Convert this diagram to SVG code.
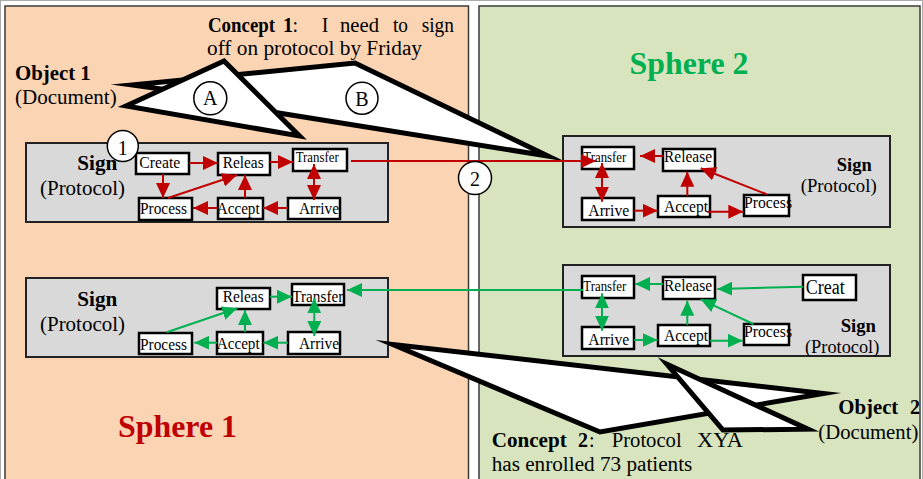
<svg xmlns="http://www.w3.org/2000/svg" width="923" height="479" viewBox="0 0 923 479">
<style>
text{font-family:"Liberation Serif","Times New Roman",serif;fill:#000}
.b{font-weight:bold}
.big{font-size:20px}
.sg{font-size:21px}
.lbl{font-size:18px}
.t{font-size:17.5px}
.ts{font-size:14px}
.box{fill:#fff;stroke:#000;stroke-width:2.5}
.sign{fill:#D9D9D9;stroke:#222;stroke-width:2}
.co{fill:#fff;stroke:#000;stroke-width:5;stroke-linejoin:miter;stroke-miterlimit:30}
.cir{fill:#fff;stroke:#000;stroke-width:1.5}
.r{stroke:#C00000;stroke-width:2;fill:none;marker-end:url(#ar)}
.rd{stroke:#C00000;stroke-width:2;fill:none;marker-end:url(#ar);marker-start:url(#ar)}
.g{stroke:#00B050;stroke-width:2;fill:none;marker-end:url(#ag)}
.gd{stroke:#00B050;stroke-width:2;fill:none;marker-end:url(#ag);marker-start:url(#ag)}
</style>
<defs>
<marker id="ar" viewBox="0 0 15 14" refX="15" refY="7" markerWidth="15" markerHeight="14" markerUnits="userSpaceOnUse" orient="auto-start-reverse"><path d="M0,0 L15,7 L0,14 z" fill="#C00000"/></marker>
<marker id="ag" viewBox="0 0 15 14" refX="15" refY="7" markerWidth="15" markerHeight="14" markerUnits="userSpaceOnUse" orient="auto-start-reverse"><path d="M0,0 L15,7 L0,14 z" fill="#00B050"/></marker>
</defs>
<rect x="0" y="0" width="923" height="479" fill="#fff"/>
<rect x="0.5" y="0.5" width="922" height="480" fill="none" stroke="#aaa" stroke-width="1"/>
<g id="sphere1">
<rect x="5" y="6" width="463.5" height="478" fill="#FBD4B4" stroke="#3a3a3a" stroke-width="1.5"/>
<text x="118" y="437" class="b" font-size="32" style="fill:#C00000" textLength="119" lengthAdjust="spacingAndGlyphs">Sphere 1</text>
</g>
<g id="sphere2">
<rect x="479" y="6" width="441" height="478" fill="#D7E4BD" stroke="#3a3a3a" stroke-width="1.5"/>
<text x="629.5" y="74" class="b" font-size="32" style="fill:#00B050" textLength="119" lengthAdjust="spacingAndGlyphs">Sphere 2</text>
</g>
<g id="concept1" class="big">
<text y="32"><tspan x="208" class="b" textLength="67" lengthAdjust="spacingAndGlyphs">Concept</tspan><tspan x="283" class="b">1</tspan><tspan x="292.5">:</tspan><tspan x="321.7">I</tspan><tspan x="340" textLength="39" lengthAdjust="spacingAndGlyphs">need</tspan><tspan x="393" textLength="15" lengthAdjust="spacingAndGlyphs">to</tspan><tspan x="421.7" textLength="32.3" lengthAdjust="spacingAndGlyphs">sign</tspan></text>
<text x="207" y="55" textLength="215" lengthAdjust="spacingAndGlyphs">off on protocol by Friday</text>
</g>
<g id="object1" class="big">
<text x="15" y="80" class="b" textLength="75.7" lengthAdjust="spacingAndGlyphs">Object 1</text>
<text x="15" y="104" textLength="101.7" lengthAdjust="spacingAndGlyphs">(Document)</text>
</g>
<g id="concept2" class="big">
<text y="446.7"><tspan x="491.7" class="b" textLength="75" lengthAdjust="spacingAndGlyphs">Concept</tspan><tspan x="578" class="b">2</tspan><tspan x="589">:</tspan><tspan x="611.7" textLength="70" lengthAdjust="spacingAndGlyphs">Protocol</tspan><tspan x="697" textLength="46" lengthAdjust="spacingAndGlyphs">XYA</tspan></text>
<text x="491.7" y="470.7" textLength="200.6" lengthAdjust="spacingAndGlyphs">has enrolled 73 patients</text>
</g>
<g id="object2" class="big">
<text y="414"><tspan x="838.3" class="b" textLength="60" lengthAdjust="spacingAndGlyphs">Object</tspan><tspan x="910" class="b">2</tspan></text>
<text x="818.3" y="439" textLength="100" lengthAdjust="spacingAndGlyphs">(Document)</text>
</g>

<g id="sign-tl">
<rect class="sign" x="26" y="143" width="362" height="79"/>
<text x="77.3" y="170" class="b sg" textLength="40" lengthAdjust="spacingAndGlyphs">Sign</text>
<text x="40" y="195" class="sg" textLength="85" lengthAdjust="spacingAndGlyphs">(Protocol)</text>
</g>
<g id="tl-create"><rect class="box" x="136" y="153" width="53" height="21"/><text class="t" x="139.3" y="168" textLength="41" lengthAdjust="spacingAndGlyphs">Create</text></g>
<g id="tl-releas"><rect class="box" x="218" y="153" width="52" height="22"/><text class="t" x="222.7" y="168" textLength="41" lengthAdjust="spacingAndGlyphs">Releas</text></g>
<g id="tl-transfer"><rect class="box" x="293" y="149" width="54" height="22"/><text class="ts" x="295.7" y="162" textLength="43" lengthAdjust="spacingAndGlyphs">Transfer</text></g>
<g id="tl-process"><rect class="box" x="139" y="198" width="53" height="22"/><text class="t" x="140" y="213.5" textLength="47" lengthAdjust="spacingAndGlyphs">Process</text></g>
<g id="tl-accept"><rect class="box" x="218" y="198" width="45" height="21"/><text class="t" x="216.7" y="213.5" textLength="43" lengthAdjust="spacingAndGlyphs">Accept</text></g>
<g id="tl-arrive"><rect class="box" x="288" y="198" width="52" height="21"/><text class="t" x="299" y="213.5" textLength="40" lengthAdjust="spacingAndGlyphs">Arrive</text></g>

<g id="sign-tr">
<rect class="sign" x="563" y="136" width="327" height="91"/>
<text x="836.7" y="170.7" class="b lbl" textLength="35" lengthAdjust="spacingAndGlyphs">Sign</text>
<text x="800.7" y="191.7" class="lbl" textLength="76" lengthAdjust="spacingAndGlyphs">(Protocol)</text>
</g>
<g id="tr-transfer"><rect class="box" x="582" y="147" width="52" height="22"/><text class="ts" x="583.3" y="162" textLength="43" lengthAdjust="spacingAndGlyphs">Transfer</text></g>
<g id="tr-release"><rect class="box" x="663" y="149" width="52" height="22"/><text class="t" x="664" y="161.5" textLength="48" lengthAdjust="spacingAndGlyphs">Release</text></g>
<g id="tr-arrive"><rect class="box" x="582" y="198" width="52" height="22"/><text class="t" x="588.3" y="215.5" textLength="41" lengthAdjust="spacingAndGlyphs">Arrive</text></g>
<g id="tr-accept"><rect class="box" x="658" y="196" width="52" height="21"/><text class="t" x="664" y="211.5" textLength="44" lengthAdjust="spacingAndGlyphs">Accept</text></g>
<g id="tr-process"><rect class="box" x="744" y="195" width="45" height="21"/><text class="t" x="744" y="207.5" textLength="48" lengthAdjust="spacingAndGlyphs">Process</text></g>

<g id="sign-bl">
<rect class="sign" x="26" y="278" width="362" height="79"/>
<text x="77.3" y="305.7" class="b sg" textLength="40" lengthAdjust="spacingAndGlyphs">Sign</text>
<text x="40" y="330.7" class="sg" textLength="85" lengthAdjust="spacingAndGlyphs">(Protocol)</text>
</g>
<g id="bl-releas"><rect class="box" x="217" y="288" width="53" height="21"/><text class="t" x="222.7" y="302" textLength="41" lengthAdjust="spacingAndGlyphs">Releas</text></g>
<g id="bl-transfer"><rect class="box" x="292" y="284" width="52" height="21"/><text x="292.3" y="301.7" font-size="16.5" textLength="51" lengthAdjust="spacingAndGlyphs">Transfer</text></g>
<g id="bl-process"><rect class="box" x="139" y="333" width="53" height="21"/><text class="t" x="140" y="349.5" textLength="47" lengthAdjust="spacingAndGlyphs">Process</text></g>
<g id="bl-accept"><rect class="box" x="217" y="332" width="46" height="22"/><text class="t" x="216.7" y="348.5" textLength="43" lengthAdjust="spacingAndGlyphs">Accept</text></g>
<g id="bl-arrive"><rect class="box" x="288" y="332" width="52" height="22"/><text class="t" x="299" y="348.5" textLength="40" lengthAdjust="spacingAndGlyphs">Arrive</text></g>

<g id="sign-br">
<rect class="sign" x="563" y="265" width="327" height="91"/>
<text x="840.7" y="331.7" class="b lbl" textLength="35.3" lengthAdjust="spacingAndGlyphs">Sign</text>
<text x="805" y="353.3" class="lbl" textLength="74.3" lengthAdjust="spacingAndGlyphs">(Protocol)</text>
</g>
<g id="br-transfer"><rect class="box" x="582" y="276" width="52" height="22"/><text class="ts" x="583.3" y="290.7" textLength="43" lengthAdjust="spacingAndGlyphs">Transfer</text></g>
<g id="br-release"><rect class="box" x="663" y="277" width="52" height="22"/><text class="t" x="664" y="291" textLength="48" lengthAdjust="spacingAndGlyphs">Release</text></g>
<g id="br-creat"><rect class="box" x="803" y="275" width="53" height="25"/><text x="805.7" y="293.5" font-size="20" textLength="39" lengthAdjust="spacingAndGlyphs">Creat</text></g>
<g id="br-arrive"><rect class="box" x="582" y="327" width="52" height="22"/><text class="t" x="588.3" y="344.5" textLength="41" lengthAdjust="spacingAndGlyphs">Arrive</text></g>
<g id="br-accept"><rect class="box" x="658" y="325" width="52" height="21"/><text class="t" x="664" y="340.5" textLength="44" lengthAdjust="spacingAndGlyphs">Accept</text></g>
<g id="br-process"><rect class="box" x="744" y="324" width="45" height="21"/><text class="t" x="744" y="337" textLength="48" lengthAdjust="spacingAndGlyphs">Process</text></g>

<g id="callout-B"><polygon class="co" points="132,85 355,63 548,156 260,110 190,93"/></g>
<g id="callout-A"><polygon class="co" points="126,106 224,61 299.5,136"/></g>
<g id="callout-C"><polygon class="co" points="392.7,344.5 823.5,393.4 600,432"/></g>
<g id="callout-D"><polygon class="co" points="667,364.3 808,429.2 723,430"/></g>

<g id="connectors">
<line class="r" x1="189" y1="163" x2="218" y2="163"/>
<line class="r" x1="270" y1="162" x2="293" y2="162"/>
<line class="r" x1="163" y1="174" x2="163" y2="198"/>
<line class="r" x1="168" y1="198" x2="237" y2="175"/>
<line class="r" x1="245" y1="198" x2="245" y2="175"/>
<line class="rd" x1="314" y1="164" x2="314" y2="200"/>
<line class="r" x1="288" y1="208" x2="263" y2="208"/>
<line class="r" x1="218" y1="208" x2="193" y2="208"/>
<line class="r" x1="351" y1="161" x2="596" y2="161"/>
<line class="r" x1="663" y1="156" x2="640" y2="156"/>
<line class="rd" x1="602" y1="163" x2="602" y2="201.7"/>
<line class="r" x1="687.3" y1="196" x2="687.3" y2="171.7"/>
<line class="r" x1="766.7" y1="194.3" x2="700.7" y2="168.3"/>
<line class="r" x1="634" y1="210.7" x2="657.7" y2="210.7"/>
<line class="r" x1="707" y1="211.7" x2="743.3" y2="211.7"/>
<line class="g" x1="270" y1="296.7" x2="292" y2="296.7"/>
<line class="gd" x1="314.3" y1="298.3" x2="314.3" y2="336"/>
<line class="g" x1="245" y1="332" x2="245" y2="310"/>
<line class="g" x1="166.7" y1="332.3" x2="237.3" y2="308.3"/>
<line class="g" x1="288" y1="342.7" x2="263.3" y2="342.7"/>
<line class="g" x1="217" y1="342.7" x2="194.3" y2="342.7"/>
<line class="g" x1="583" y1="290" x2="347" y2="290"/>
<line class="g" x1="663" y1="284" x2="635" y2="284"/>
<line class="g" x1="803" y1="286.7" x2="717.3" y2="289"/>
<line class="gd" x1="602" y1="293.3" x2="602" y2="330.7"/>
<line class="g" x1="687.3" y1="325" x2="687.3" y2="300.7"/>
<line class="g" x1="753.3" y1="324" x2="700.7" y2="299.3"/>
<line class="g" x1="634" y1="340" x2="657.7" y2="340"/>
<line class="g" x1="710" y1="340.7" x2="742.7" y2="340.7"/>
</g>

<g id="circle-1"><circle class="cir" cx="122.8" cy="146" r="15.5"/><text class="big" x="122.8" y="155" text-anchor="middle">1</text></g>
<g id="circle-2"><circle class="cir" cx="475" cy="178" r="16.5"/><text class="big" x="475" y="186" text-anchor="middle">2</text></g>
<g id="circle-A"><circle class="cir" cx="210.3" cy="98.3" r="16.5"/><text class="big" x="210.3" y="105" text-anchor="middle">A</text></g>
<g id="circle-B"><circle class="cir" cx="362" cy="98.3" r="16"/><text class="big" x="362" y="105.5" text-anchor="middle">B</text></g>
</svg>
